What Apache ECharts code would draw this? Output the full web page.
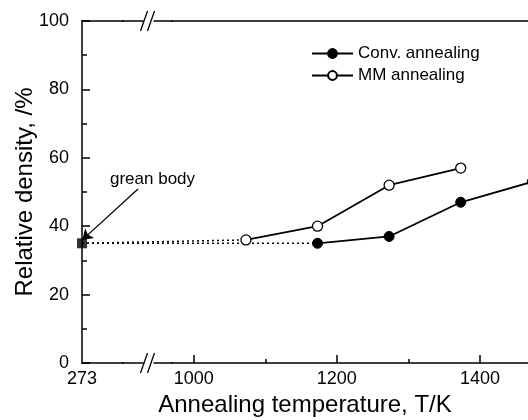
<!DOCTYPE html>
<html>
<head>
<meta charset="utf-8">
<script src="https://cdn.jsdelivr.net/npm/echarts@6/dist/echarts.min.js"></script>
<style>html,body{margin:0;padding:0;background:#fff}#main{width:528px;height:420px}</style>
</head>
<body>
<div id="main"></div>
<script>
// values
var convTemp = [1173, 1273, 1373, 1473];
var convDensity = [35, 37, 47, 53];
var mmTemp = [1073, 1173, 1273, 1373];
var mmDensity = [36, 40, 52, 57];
var greenTemp = [273];
var greenDensity = [35];
var xLabelValues = [273, 1000, 1200, 1400];
var xMajorValues = [1000, 1200, 1400];
var xMinorValues = [1100, 1300];
var xBreak = {start: 330, end: 970, gap: 69};

function pairs(xs, ys) {
    var out = [];
    for (var i = 0; i < xs.length; i++) {
        out.push([xs[i], ys[i]]);
    }
    return out;
}

var font = 'Liberation Sans';
var myChart = echarts.init(document.getElementById('main'));

function xAxisBase(extra) {
    var a = {
        type: 'value',
        min: 273,
        max: 1467,
        breaks: [xBreak],
        breakArea: {show: false},
        splitLine: {show: false},
        axisLine: {show: false},
        axisTick: {show: false},
        axisLabel: {show: false}
    };
    for (var k in extra) a[k] = extra[k];
    return a;
}

var option = {
    animation: false,
    backgroundColor: '#fff',
    grid: {left: 82, right: 0, top: 21, bottom: 57, containLabel: false, outerBoundsMode: 'none'},
    legend: {
        orient: 'vertical',
        left: 311,
        top: 45,
        padding: 0,
        itemGap: 5,
        itemWidth: 41,
        itemHeight: 11,
        data: ['Conv. annealing', 'MM annealing'],
        textStyle: {fontFamily: font, fontSize: 17, color: '#000'}
    },
    xAxis: [
        xAxisBase({
            position: 'bottom',
            name: 'Annealing temperature, T/K',
            nameLocation: 'middle',
            nameGap: 30,
            nameMoveOverlap: false,
            nameTextStyle: {fontFamily: font, fontSize: 24, color: '#000'},
            axisLine: {show: true, onZero: false, lineStyle: {color: '#000', width: 1.5}},
            axisTick: {show: true, inside: true, length: 8, customValues: xMajorValues, lineStyle: {color: '#000', width: 1.5}},
            axisLabel: {
                show: true,
                customValues: xLabelValues,
                margin: 7,
                fontFamily: font,
                fontSize: 18,
                color: '#000',
                formatter: function (v) { return String(v); }
            }
        }),
        xAxisBase({
            position: 'bottom',
            axisTick: {show: true, inside: true, length: 4, customValues: xMinorValues, lineStyle: {color: '#000', width: 1.5}}
        }),
        xAxisBase({
            position: 'top',
            axisLine: {show: true, onZero: false, lineStyle: {color: '#000', width: 1.5}}
        })
    ],
    yAxis: {
        type: 'value',
        min: 0,
        max: 100,
        interval: 20,
        name: 'Relative density, /%',
        nameLocation: 'middle',
        nameGap: 45,
        nameMoveOverlap: false,
        nameTextStyle: {fontFamily: font, fontSize: 24, color: '#000'},
        splitLine: {show: false},
        axisLine: {show: true, lineStyle: {color: '#000', width: 1.5}},
        axisTick: {show: true, inside: true, length: 8, lineStyle: {color: '#000', width: 1.5}},
        minorTick: {show: true, splitNumber: 2, length: 5, lineStyle: {color: '#000', width: 1.5}},
        axisLabel: {margin: 13, fontFamily: font, fontSize: 18, color: '#000'}
    },
    series: [
        {
            name: 'green-conv',
            type: 'line',
            data: [[greenTemp[0], greenDensity[0]], [convTemp[0], convDensity[0]]],
            symbol: 'none',
            lineStyle: {color: '#000', width: 1.5, type: [2, 3]},
            silent: true
        },
        {
            name: 'green-mm',
            type: 'line',
            data: [[greenTemp[0], greenDensity[0]], [mmTemp[0], mmDensity[0]]],
            symbol: 'none',
            lineStyle: {color: '#000', width: 1.5, type: [2, 3]},
            silent: true
        },
        {
            name: 'Conv. annealing',
            type: 'line',
            clip: false,
            data: pairs(convTemp, convDensity),
            symbol: 'circle',
            symbolSize: 10,
            lineStyle: {color: '#000', width: 1.8},
            itemStyle: {color: '#000', borderColor: '#000', borderWidth: 1}
        },
        {
            name: 'MM annealing',
            type: 'line',
            clip: false,
            data: pairs(mmTemp, mmDensity),
            symbol: 'circle',
            symbolSize: 10,
            lineStyle: {color: '#000', width: 1.8},
            itemStyle: {color: '#fff', borderColor: '#000', borderWidth: 1.3}
        },
        {
            name: 'green body',
            type: 'scatter',
            clip: false,
            data: pairs(greenTemp, greenDensity),
            symbol: 'rect',
            symbolSize: 10,
            itemStyle: {color: '#000'},
            z: 5,
            markLine: {
                silent: true,
                symbolSize: 10,
                label: {show: false},
                lineStyle: {color: '#000', width: 1.3, type: 'solid'},
                data: [[
                    {x: 138, y: 189, symbol: 'none'},
                    {coord: [273.5, 36], symbol: 'arrow'}
                ]]
            }
        }
    ]
};
myChart.setOption(option);

// axis line across the break, with "//" marks on top and bottom
var p0 = myChart.convertToPixel({xAxisIndex: 0}, xBreak.start);
var p1 = myChart.convertToPixel({xAxisIndex: 0}, xBreak.end);
var cx = (p0 + p1) / 2 + 2;
var yTop = myChart.convertToPixel({yAxisIndex: 0}, 100);
var yBot = myChart.convertToPixel({yAxisIndex: 0}, 0);
var marks = [];
[yTop, yBot].forEach(function (y) {
    marks.push({type: 'line', shape: {x1: p0 - 1, y1: y, x2: cx - 6, y2: y}, style: {stroke: '#000', lineWidth: 1.5}, z: 51});
    marks.push({type: 'line', shape: {x1: cx + 4, y1: y, x2: p1 + 1, y2: y}, style: {stroke: '#000', lineWidth: 1.5}, z: 51});
    marks.push({type: 'line', shape: {x1: cx - 9, y1: y + 10, x2: cx - 2, y2: y - 10}, style: {stroke: '#000', lineWidth: 1.3}, z: 51});
    marks.push({type: 'line', shape: {x1: cx - 2, y1: y + 10, x2: cx + 5, y2: y - 10}, style: {stroke: '#000', lineWidth: 1.3}, z: 51});
});
marks.push({
    type: 'text',
    left: 110,
    top: 171,
    style: {text: 'grean body', font: '17px "Liberation Sans"', fill: '#000'},
    z: 51
});
myChart.setOption({graphic: marks});
</script>
</body>
</html>
